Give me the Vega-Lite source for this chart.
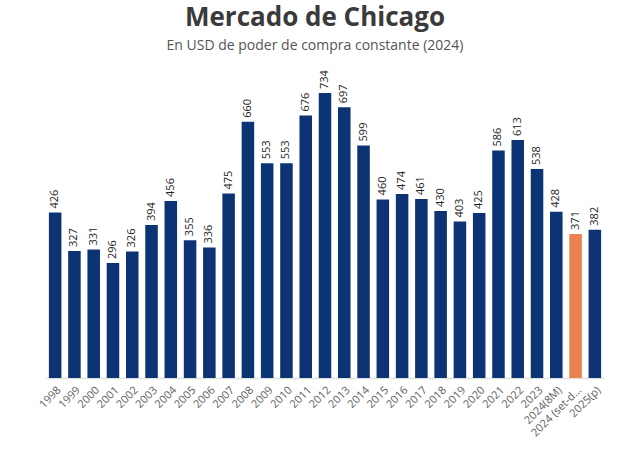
{
  "$schema": "https://vega.github.io/schema/vega-lite/v6.json",
  "autosize": "none",
  "width": 558,
  "height": 285,
  "padding": {"left": 46, "top": 93, "right": 33, "bottom": 90},
  "background": "white",
  "title": {
    "text": "Mercado de Chicago",
    "subtitle": "En USD de poder de compra constante (2024)",
    "anchor": "middle",
    "dx": -10,
    "font": "Open Sans",
    "fontSize": 26,
    "fontWeight": "bold",
    "color": "#3a3a3a",
    "subtitleFont": "Open Sans",
    "subtitleFontSize": 14,
    "subtitleColor": "#555555",
    "subtitlePadding": 8,
    "offset": 17
  },
  "data": {
    "values": [
      {"year": "1998", "value": 426, "type": "a"},
      {"year": "1999", "value": 327, "type": "a"},
      {"year": "2000", "value": 331, "type": "a"},
      {"year": "2001", "value": 296, "type": "a"},
      {"year": "2002", "value": 326, "type": "a"},
      {"year": "2003", "value": 394, "type": "a"},
      {"year": "2004", "value": 456, "type": "a"},
      {"year": "2005", "value": 355, "type": "a"},
      {"year": "2006", "value": 336, "type": "a"},
      {"year": "2007", "value": 475, "type": "a"},
      {"year": "2008", "value": 660, "type": "a"},
      {"year": "2009", "value": 553, "type": "a"},
      {"year": "2010", "value": 553, "type": "a"},
      {"year": "2011", "value": 676, "type": "a"},
      {"year": "2012", "value": 734, "type": "a"},
      {"year": "2013", "value": 697, "type": "a"},
      {"year": "2014", "value": 599, "type": "a"},
      {"year": "2015", "value": 460, "type": "a"},
      {"year": "2016", "value": 474, "type": "a"},
      {"year": "2017", "value": 461, "type": "a"},
      {"year": "2018", "value": 430, "type": "a"},
      {"year": "2019", "value": 403, "type": "a"},
      {"year": "2020", "value": 425, "type": "a"},
      {"year": "2021", "value": 586, "type": "a"},
      {"year": "2022", "value": 613, "type": "a"},
      {"year": "2023", "value": 538, "type": "a"},
      {"year": "2024(8M)", "value": 428, "type": "a"},
      {"year": "2024 (set-dic)", "value": 371, "type": "b"},
      {"year": "2025(p)", "value": 382, "type": "a"}
    ]
  },
  "encoding": {
    "x": {
      "field": "year",
      "type": "nominal",
      "sort": null,
      "scale": {"paddingInner": 0.35, "paddingOuter": 0.15},
      "axis": {
        "title": null,
        "labelAngle": -45,
        "labelFont": "Open Sans",
        "labelFontSize": 11,
        "labelColor": "#606060",
        "labelLimit": 66,
        "ticks": false,
        "labelPadding": 6,
        "domainColor": "#e0e0e0",
        "domainWidth": 1.5
      }
    },
    "y": {
      "field": "value",
      "type": "quantitative",
      "scale": {"domain": [0, 734], "nice": false},
      "axis": null
    }
  },
  "layer": [
    {
      "mark": {"type": "bar"},
      "encoding": {
        "color": {
          "field": "type",
          "type": "nominal",
          "scale": {"domain": ["a", "b"], "range": ["#0c3474", "#e9824f"]},
          "legend": null
        }
      }
    },
    {
      "mark": {
        "type": "text",
        "angle": 270,
        "align": "left",
        "baseline": "middle",
        "dx": 4,
        "font": "Open Sans",
        "fontSize": 11,
        "color": "#222222"
      },
      "encoding": {
        "text": {"field": "value", "type": "quantitative"}
      }
    }
  ],
  "config": {"view": {"stroke": null}}
}
